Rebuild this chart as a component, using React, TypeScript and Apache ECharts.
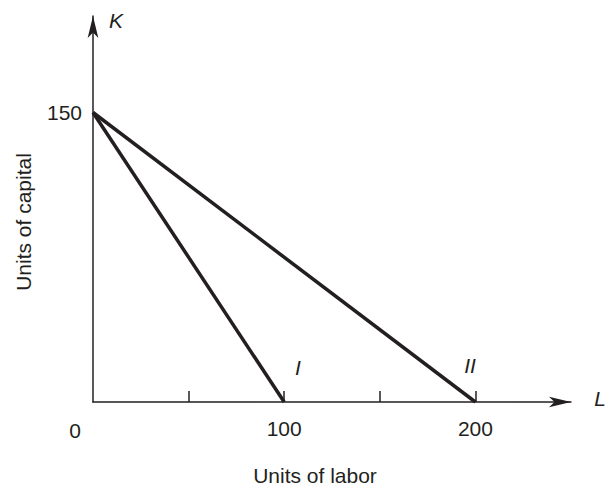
import React, { useEffect, useRef } from "react";
import * as echarts from "echarts";

const lineI = [[0, 150], [100, 0]];
const lineII = [[0, 150], [200, 0]];
const xTickValues = [50, 100, 150, 200];
const xLabelValues = [100, 200];
const yLabelValues = [150];
const seriesNames = ["I", "II"];

const INK = "#231f20";
const FONT = "'Liberation Sans', Arial, Helvetica, sans-serif";
const FS = 21;

export default function App() {
  const ref = useRef<HTMLDivElement>(null);
  useEffect(() => {
    if (!ref.current) return;
    const chart = echarts.init(ref.current, null, { renderer: "svg" });
    chart.setOption({
      animation: false,
      backgroundColor: "#ffffff",
      grid: { left: 93, right: 37, top: 16, bottom: 85, containLabel: false },
      xAxis: {
        type: "value",
        min: 0,
        max: 250,
        interval: 50,
        splitLine: { show: false },
        axisLine: {
          show: true,
          lineStyle: { color: INK, width: 1.5 },
          symbol: ["none", "arrow"],
          symbolSize: [8, 22],
        },
        axisTick: { show: true, inside: true, length: 11, customValues: xTickValues, lineStyle: { color: INK, width: 1.5 } },
        axisLabel: { customValues: xLabelValues, margin: 16, fontSize: FS, color: INK, fontFamily: FONT },
      },
      yAxis: {
        type: "value",
        min: 0,
        max: 200,
        interval: 50,
        splitLine: { show: false },
        axisLine: {
          show: true,
          lineStyle: { color: INK, width: 1.5 },
          symbol: ["none", "arrow"],
          symbolSize: [8, 22],
        },
        axisTick: { show: false },
        axisLabel: { customValues: yLabelValues, margin: 11, fontSize: FS, color: INK, fontFamily: FONT },
      },
      series: [
        { name: seriesNames[0], type: "line", data: lineI, symbol: "none", lineStyle: { color: INK, width: 3.5 } },
        { name: seriesNames[1], type: "line", data: lineII, symbol: "none", lineStyle: { color: INK, width: 3.5 } },
      ],
      graphic: [
        { type: "text", x: 75, y: 430, style: { text: "0", fontSize: FS, fontFamily: FONT, fill: INK, align: "center", verticalAlign: "middle" } },
        { type: "text", x: 315, y: 475, style: { text: "Units of labor", fontSize: FS, fontFamily: FONT, fill: INK, align: "center", verticalAlign: "middle" } },
        { type: "text", x: 23, y: 222, rotation: Math.PI / 2, style: { text: "Units of capital", fontSize: FS, fontFamily: FONT, fill: INK, align: "center", verticalAlign: "middle" } },
        { type: "text", x: 116, y: 20, style: { text: "K", fontSize: FS, fontStyle: "italic", fontFamily: FONT, fill: INK, align: "center", verticalAlign: "middle" } },
        { type: "text", x: 606, y: 398, style: { text: "L", fontSize: FS, fontStyle: "italic", fontFamily: FONT, fill: INK, align: "right", verticalAlign: "middle" } },
        { type: "text", x: 298, y: 367, style: { text: seriesNames[0], fontSize: FS, fontStyle: "italic", fontFamily: FONT, fill: INK, align: "center", verticalAlign: "middle" } },
        { type: "text", x: 470, y: 365, style: { text: seriesNames[1], fontSize: FS, fontStyle: "italic", fontFamily: FONT, fill: INK, align: "center", verticalAlign: "middle" } },
      ],
    });
    return () => chart.dispose();
  }, []);
  return <div ref={ref} style={{ width: 608, height: 487, position: "absolute", left: 0, top: 0 }} />;
}
